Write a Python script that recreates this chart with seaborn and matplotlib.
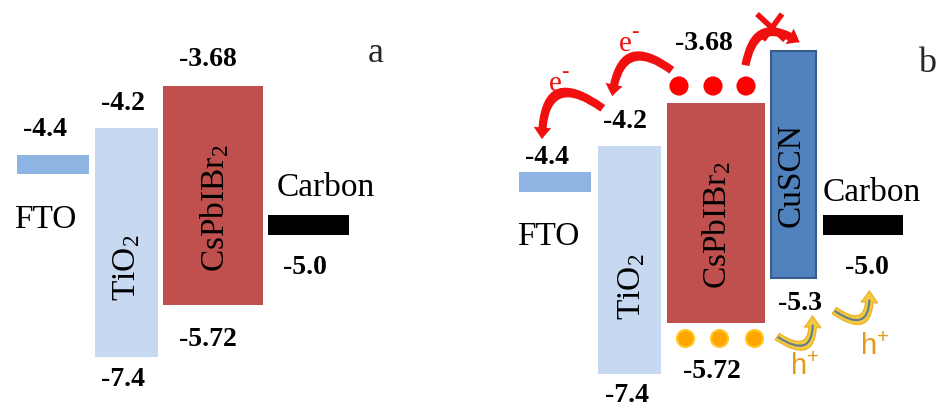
import matplotlib
matplotlib.use("Agg")
import matplotlib.pyplot as plt
import seaborn as sns
import pandas as pd
from matplotlib.patches import FancyArrowPatch

# energy levels (eV) shown as labels
fto_level = "-4.4"
tio2_levels = ["-4.2", "-7.4"]
perov_levels = ["-3.68", "-5.72"]
carbon_level = "-5.0"
cuscn_level = "-5.3"

# schematic layout of each panel (pixel space, y downward)
# name, x-left, x-right, y-top, y-bottom, colour, edge
panel_a = [
    ("FTO", 17, 89, 155, 174, "#8EB4E3", "none"),
    ("TiO2", 95, 158, 128, 357, "#C6D9F1", "none"),
    ("CsPbIBr2", 163, 263, 86, 305, "#C0504D", "none"),
    ("Carbon", 268, 349, 215, 235, "#000000", "none"),
]
panel_b = [
    ("FTO", 519, 591, 172, 192, "#8EB4E3", "none"),
    ("TiO2", 598, 661, 146, 374, "#C6D9F1", "none"),
    ("CsPbIBr2", 667, 765, 103, 323, "#C0504D", "none"),
    ("CuSCN", 771, 816, 51, 278, "#4F81BD", "#385D8A"),
    ("Carbon", 823, 903, 215, 235, "#000000", "none"),
]

electron_x = [679, 713, 746]
hole_x = [685, 719, 754]

sns.set_theme(style="white")
plt.rcParams["font.family"] = ["Liberation Serif", "DejaVu Serif"]
plt.rcParams["mathtext.default"] = "regular"

fig = plt.figure(figsize=(9.44, 4.08), dpi=100)
ax = fig.add_axes([0, 0, 1, 1])
ax.set_xlim(0, 944)
ax.set_ylim(408, 0)
ax.axis("off")

for name, x0, x1, y0, y1, col, ec in panel_a + panel_b:
    ax.bar((x0 + x1) / 2, y1 - y0, bottom=y0, width=x1 - x0, color=col,
           edgecolor=ec, linewidth=1.5 if ec != "none" else 0)

num = dict(fontsize=20, ha="center", va="center", color="black",
           fontweight="bold")
big = dict(fontsize=24, ha="center", va="center", color="black")

# panel a texts
ax.text(45, 130, fto_level, **num)
ax.text(45, 220, "FTO", **big)
ax.text(123, 103, tio2_levels[0], **num)
ax.text(123, 380, tio2_levels[1], **num)
ax.text(127, 268, "TiO$_2$", rotation=90, **big)
ax.text(208, 60, perov_levels[0], **num)
ax.text(208, 340, perov_levels[1], **num)
ax.text(215, 208, "CsPbIBr$_2$", rotation=90, **big)
ax.text(326, 188, "Carbon", **big)
ax.text(305, 268, carbon_level, **num)
ax.text(376, 53, "a", fontsize=26, ha="center", va="center")

# panel b texts
ax.text(547, 158, fto_level, **num)
ax.text(548, 237, "FTO", **big)
ax.text(625, 121, tio2_levels[0], **num)
ax.text(627, 396, tio2_levels[1], **num)
ax.text(632, 287, "TiO$_2$", rotation=90, **big)
ax.text(704, 43, perov_levels[0], **num)
ax.text(712, 372, perov_levels[1], **num)
ax.text(717, 225, "CsPbIBr$_2$", rotation=90, **big)
ax.text(791, 175, "CuSCN", rotation=90, **big)
ax.text(872, 193, "Carbon", **big)
ax.text(867, 268, carbon_level, **num)
ax.text(800, 303, cuscn_level, **num)
ax.text(927, 63, "b", fontsize=26, ha="center", va="center")

# electrons and holes
dots = pd.DataFrame({"x": electron_x + hole_x,
                     "y": [86] * 3 + [338] * 3,
                     "kind": ["e"] * 3 + ["h"] * 3})
sns.scatterplot(data=dots[dots.kind == "e"], x="x", y="y", s=190,
                color="#FF0000", edgecolor="none", ax=ax, legend=False)
sns.scatterplot(data=dots[dots.kind == "h"], x="x", y="y", s=150,
                color="#FFA500", edgecolor="#FFC820", linewidth=1.5,
                ax=ax, legend=False)

# electron transfer arrows
red = "#F01010"
for a, b, rad in [((674, 72), (612, 99), 0.9), ((605, 110), (542, 142), 1.0),
                  ((745, 68), (802, 44), -0.8)]:
    ax.add_patch(FancyArrowPatch(a, b, connectionstyle=f"arc3,rad={rad}",
                                 arrowstyle="simple,head_width=0.9,head_length=0.6,tail_width=0.42",
                                 mutation_scale=14, color=red, lw=0))
ax.plot([757, 785], [14, 40], color=red, lw=4, solid_capstyle="butt")
ax.plot([782, 763], [14, 40], color=red, lw=4, solid_capstyle="butt")
for x, y in [(625, 44), (555, 84)]:
    ax.text(x, y, "e", fontsize=21, color=red, ha="center", va="center")
    ax.text(x + 10, y - 12, "-", fontsize=16, color=red, ha="center",
            va="center", fontweight="bold")

# hole transfer arrows
for a, b in [((775, 335), (812, 313)), ((832, 309), (869, 288))]:
    ax.add_patch(FancyArrowPatch(a, b, connectionstyle="arc3,rad=1.1",
                                 arrowstyle="simple,head_width=1.0,head_length=0.7,tail_width=0.45",
                                 mutation_scale=12, facecolor="#F5C842",
                                 edgecolor="#E8B020", lw=0.8))
    ax.add_patch(FancyArrowPatch(a, b, connectionstyle="arc3,rad=1.1",
                                 arrowstyle="-", shrinkA=3, shrinkB=9,
                                 color="#5F7D8C", lw=1.5))
hfont = dict(fontsize=21, color="#E39A1C", ha="center", va="center",
             family=["Liberation Sans", "DejaVu Sans"])
ax.text(805, 367, "h$^{+}$", **hfont)
ax.text(875, 347, "h$^{+}$", **hfont)

fig.savefig("out.png", dpi=100)
